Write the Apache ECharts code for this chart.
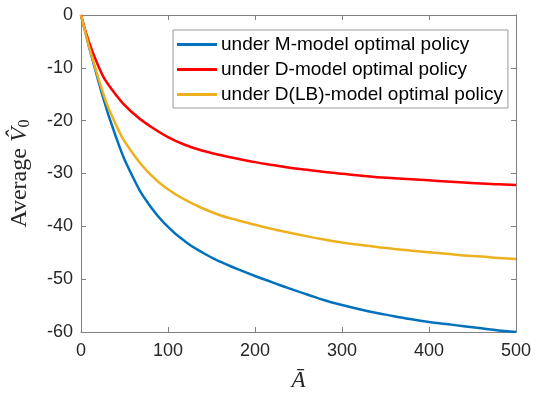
<!DOCTYPE html>
<html>
<head>
<meta charset="utf-8">
<script src="https://cdn.jsdelivr.net/npm/echarts@6/dist/echarts.min.js"></script>
<style>
html, body { margin: 0; padding: 0; background: #fff; }
#chart { width: 536px; height: 397px; }
</style>
</head>
<body>
<div id="chart"></div>
<script>
// values
var aBar = [0, 20, 40, 60, 80, 100, 120, 140, 160, 180, 200, 220, 240, 260, 280, 300, 320, 340, 360, 380, 400, 420, 440, 460, 480, 500];
var mModel = [0, -12.5, -23, -30.8, -36.3, -40.1, -42.9, -45, -46.7, -48.1, -49.4, -50.6, -51.8, -52.9, -54, -54.9, -55.7, -56.4, -57, -57.6, -58.1, -58.5, -58.9, -59.3, -59.7, -60];
var dModel = [0, -9.7, -15.1, -18.6, -21.1, -23.1, -24.6, -25.7, -26.5, -27.2, -27.85, -28.4, -28.9, -29.3, -29.7, -30.05, -30.4, -30.7, -30.9, -31.1, -31.3, -31.5, -31.7, -31.9, -32.05, -32.2];
var dlbModel = [0, -12, -20.7, -26.3, -30.2, -33, -35, -36.6, -37.9, -38.85, -39.7, -40.5, -41.2, -41.9, -42.5, -43.05, -43.5, -43.9, -44.3, -44.6, -44.9, -45.2, -45.5, -45.7, -46, -46.2];
var seriesNames = ['under M-model optimal policy', 'under D-model optimal policy', 'under D(LB)-model optimal policy'];

function pairs(ys) {
    return aBar.map(function (a, i) { return [a, ys[i]]; });
}

var axisGray = '#808080';
var textCol = '#262626';
var tickLen = 5;

var myChart = echarts.init(document.getElementById('chart'));
var option = {
    backgroundColor: '#fff',
    animation: false,
    color: ['#0072BD', '#FF0000', '#EDB120'],
    grid: { left: 81, right: 20, top: 15, bottom: 56 },
    legend: {
        orient: 'vertical',
        left: 173,
        top: 30,
        align: 'left',
        icon: 'rect',
        padding: [5, 5, 4, 4],
        itemWidth: 40,
        itemHeight: 3,
        itemGap: 6,
        borderColor: '#999',
        borderWidth: 1,
        backgroundColor: '#fff',
        textStyle: { fontFamily: 'Liberation Sans', fontSize: 19, lineHeight: 19, color: '#000', padding: [0, 0, 0, -1] },
        data: seriesNames
    },
    xAxis: [{
        type: 'value',
        min: 0, max: 500, interval: 100,
        name: 'Ā',
        nameLocation: 'middle',
        nameGap: 37,
        nameTextStyle: { fontFamily: 'Liberation Serif', fontStyle: 'italic', fontSize: 23, color: textCol },
        axisLine: { onZero: false, lineStyle: { color: axisGray } },
        axisTick: { inside: true, length: tickLen, lineStyle: { color: axisGray } },
        axisLabel: { fontFamily: 'Liberation Sans', fontSize: 18, color: textCol, margin: 10 },
        splitLine: { show: false }
    }, {
        type: 'value', position: 'top',
        min: 0, max: 500, interval: 100,
        axisLine: { show: true, onZero: false, lineStyle: { color: axisGray } },
        axisTick: { inside: true, length: tickLen, lineStyle: { color: axisGray } },
        axisLabel: { show: false },
        splitLine: { show: false }
    }],
    yAxis: [{
        type: 'value',
        min: -60, max: 0, interval: 10,
        name: '{a|Average }{v|V̂}{s|0}',
        nameLocation: 'middle',
        nameGap: 48,
        nameTextStyle: {
            fontFamily: 'Liberation Serif', fontSize: 24, color: textCol,
            rich: {
                a: { fontFamily: 'Liberation Serif', fontSize: 24, color: textCol },
                v: { fontFamily: 'Liberation Serif', fontStyle: 'italic', fontSize: 24, color: textCol },
                s: { fontFamily: 'Liberation Serif', fontSize: 16, color: textCol, padding: [10, 0, 0, 0] }
            }
        },
        axisLine: { show: true, onZero: false, lineStyle: { color: axisGray } },
        axisTick: { show: true, inside: true, length: tickLen, lineStyle: { color: axisGray } },
        axisLabel: { fontFamily: 'Liberation Sans', fontSize: 18, color: textCol, margin: 8 },
        splitLine: { show: false }
    }, {
        type: 'value', position: 'right',
        min: -60, max: 0, interval: 10,
        axisLine: { show: true, onZero: false, lineStyle: { color: axisGray } },
        axisTick: { show: true, inside: true, length: tickLen, lineStyle: { color: axisGray } },
        axisLabel: { show: false },
        splitLine: { show: false }
    }],
    series: [
        { name: seriesNames[0], type: 'line', data: pairs(mModel), smooth: 0.5, symbol: 'none', lineStyle: { width: 2.5 }, z: 3 },
        { name: seriesNames[1], type: 'line', data: pairs(dModel), smooth: 0.5, symbol: 'none', lineStyle: { width: 2.5 }, z: 3 },
        { name: seriesNames[2], type: 'line', data: pairs(dlbModel), smooth: 0.5, symbol: 'none', lineStyle: { width: 2.5 }, z: 4 }
    ]
};
myChart.setOption(option);
</script>
</body>
</html>
